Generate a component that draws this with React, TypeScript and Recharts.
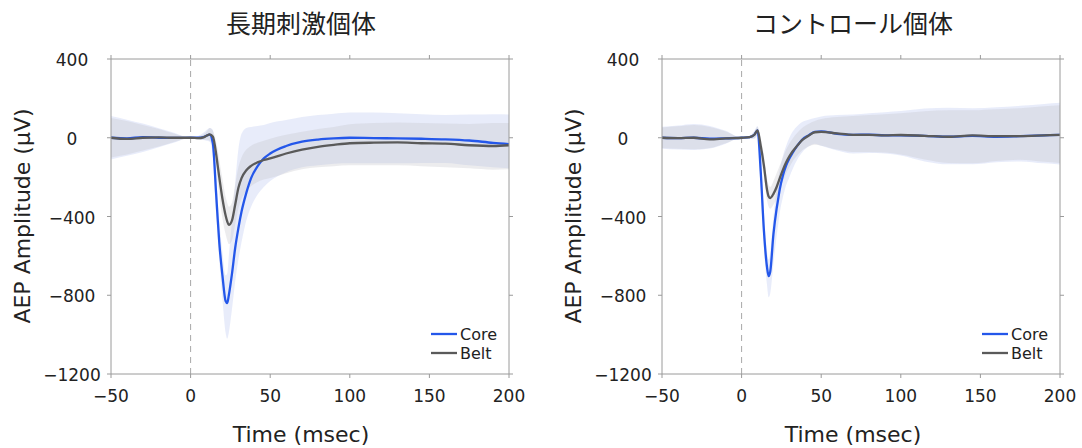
import { ComposedChart, Line, Area, XAxis, YAxis, ReferenceLine } from "recharts";

// time axis (msec), shared by both panels
const time = [-50, -40, -30, -20, -10, 0, 5, 8, 10, 12, 14, 16, 17, 18, 20, 22, 23, 24, 26, 28, 30, 32, 35, 38, 42, 46, 50, 60, 70, 80, 90, 100, 115, 130, 145, 160, 175, 190, 200];

const xTicks = [-50, 0, 50, 100, 150, 200];
const yTicks = [-1200, -800, -400, 0, 400];

// 長期刺激個体
const longCore = [0, -3, 3, 0, -1, 0, 0, 3, 10, 16, -30, -280, -410, -530, -700, -830, -840, -800, -690, -560, -460, -375, -280, -205, -145, -105, -80, -42, -20, -9, -3, 0, -2, -3, -5, -8, -14, -26, -32];
const longBelt = [0, -6, 0, 2, 0, 0, -2, 2, 10, 17, 5, -80, -140, -200, -310, -395, -425, -443, -420, -340, -255, -205, -165, -143, -125, -113, -105, -80, -60, -46, -36, -28, -25, -24, -28, -30, -38, -42, -38];
const longCoreHi = [110, 92, 72, 48, 24, 0, 10, 25, 40, 50, 40, -180, -320, -420, -580, -700, -690, -600, -420, -230, -60, 20, 50, 55, 60, 65, 75, 90, 105, 115, 122, 128, 128, 125, 120, 115, 118, 120, 118];
const longCoreLo = [-110, -92, -72, -48, -24, 0, -10, -12, -15, -20, -100, -380, -500, -620, -820, -990, -1020, -990, -870, -730, -620, -530, -420, -350, -290, -250, -220, -175, -150, -140, -132, -130, -130, -130, -128, -128, -140, -150, -155];
const longBeltHi = [100, 85, 65, 45, 20, 0, 8, 15, 30, 50, 35, -20, -60, -110, -210, -300, -330, -350, -330, -240, -150, -100, -60, -40, -25, -15, -5, 15, 30, 45, 55, 68, 75, 78, 75, 72, 70, 75, 75];
const longBeltLo = [-100, -85, -65, -45, -20, 0, -8, -10, -10, -15, -30, -140, -220, -290, -410, -490, -520, -540, -520, -440, -360, -310, -270, -245, -225, -212, -205, -180, -160, -150, -145, -140, -140, -140, -145, -150, -155, -162, -160];

// コントロール個体
const ctrlCore = [0, -2, 0, -5, -3, 0, 3, 15, 37, -170, -470, -660, -703, -680, -490, -360, -310, -260, -190, -140, -105, -77, -40, -10, 12, 30, 32, 20, 15, 16, 12, 12, 10, 5, 10, 5, 8, 12, 15];
const ctrlBelt = [0, -2, 0, -8, -3, 0, 3, 15, 37, -40, -140, -265, -298, -306, -285, -250, -228, -205, -162, -125, -95, -70, -40, -12, 10, 28, 30, 22, 15, 15, 12, 14, 10, 5, 12, 8, 8, 12, 15];
const ctrlCoreHi = [56, 62, 70, 60, 35, 0, 8, 35, 60, -80, -380, -580, -620, -580, -400, -260, -210, -160, -90, -40, 0, 30, 60, 80, 92, 100, 108, 115, 118, 125, 130, 136, 148, 152, 150, 155, 162, 172, 178];
const ctrlCoreLo = [-56, -60, -62, -55, -30, 0, -5, -5, 10, -260, -560, -750, -810, -790, -640, -500, -440, -380, -300, -240, -200, -160, -110, -75, -45, -30, -40, -65, -80, -78, -80, -90, -120, -135, -135, -125, -120, -130, -136];
const ctrlBeltHi = [52, 58, 65, 55, 32, 0, 8, 30, 55, 0, -90, -210, -240, -250, -220, -180, -160, -140, -100, -60, -30, -5, 25, 50, 70, 85, 95, 105, 110, 115, 120, 125, 135, 140, 140, 145, 150, 160, 165];
const ctrlBeltLo = [-52, -56, -58, -52, -28, 0, -5, -3, 15, -90, -200, -320, -350, -360, -340, -310, -290, -265, -220, -180, -150, -120, -90, -65, -45, -35, -40, -60, -72, -72, -75, -85, -110, -128, -130, -118, -112, -122, -128];

const FONT = "DejaVu Sans";
const frame = "#9a9a9a";
const ink = "#222";
const blue = "#2457ea";
const grey = "#5a5a5a";

const fmt = (v: number) => (v < 0 ? `\u2212${-v}` : `${v}`);

const YTick = ({ x, y, payload }: any) => (
  <text x={x - 33} y={y + 1} textAnchor="middle" dominantBaseline="central" fontSize={17} fill={ink} fontFamily={FONT}>
    {fmt(payload.value)}
  </text>
);

const XTick = ({ x, y, payload }: any) => (
  <text x={x} y={y + 16} textAnchor="middle" dominantBaseline="central" fontSize={17} fill={ink} fontFamily={FONT}>
    {fmt(payload.value)}
  </text>
);

function Panel(props: any) {
  const { left, axisWidth, rightMargin, title, cx, core, belt, coreLo, coreHi, beltLo, beltHi } = props;
  const data = time.map((t, i) => ({
    t,
    core: core[i],
    belt: belt[i],
    coreBand: [coreLo[i], coreHi[i]],
    beltBand: [beltLo[i], beltHi[i]],
  }));
  const plotRight = 541 - rightMargin;
  return (
    <div style={{ position: "absolute", left, top: 0, width: 541, height: 448 }}>
      <ComposedChart width={541} height={448} data={data} margin={{ top: 58, right: rightMargin - 1, bottom: 34, left: 0 }}>
        <XAxis xAxisId="b" dataKey="t" type="number" domain={[-50, 200]} ticks={xTicks} height={40}
          stroke={frame} tickSize={4} tickMargin={2} tick={<XTick />} allowDataOverflow />
        <XAxis xAxisId="top" orientation="top" dataKey="t" type="number" domain={[-50, 200]} ticks={xTicks} height={1}
          stroke={frame} tickSize={4} tickFormatter={() => ""} allowDataOverflow />
        <YAxis yAxisId="l" type="number" domain={[-1200, 400]} ticks={yTicks} width={axisWidth}
          stroke={frame} tickSize={4} tickMargin={2} tick={<YTick />} allowDataOverflow />
        <YAxis yAxisId="r" orientation="right" type="number" domain={[-1200, 400]} ticks={yTicks} width={1}
          stroke={frame} tickSize={4} tickFormatter={() => ""} allowDataOverflow />
        <ReferenceLine xAxisId="b" yAxisId="l" x={0} stroke="#a8a8a8" strokeDasharray="6 5" strokeWidth={1} />
        <Area xAxisId="b" yAxisId="l" type="monotone" dataKey="coreBand" stroke="none" fill="#c5d0f2" fillOpacity={0.4} isAnimationActive={false} />
        <Area xAxisId="b" yAxisId="l" type="monotone" dataKey="beltBand" stroke="none" fill="#bfbfc6" fillOpacity={0.3} isAnimationActive={false} />
        <Line xAxisId="b" yAxisId="l" type="monotone" dataKey="core" stroke={blue} strokeWidth={2.3} dot={false} isAnimationActive={false} />
        <Line xAxisId="b" yAxisId="l" type="monotone" dataKey="belt" stroke={grey} strokeWidth={2.3} dot={false} isAnimationActive={false} />
      </ComposedChart>

      <div style={{ position: "absolute", left: cx - 200, top: 7, width: 400, textAlign: "center", fontSize: 25, lineHeight: "30px", fontFamily: "Noto Sans CJK JP", color: ink }}>
        {title}
      </div>
      <div style={{ position: "absolute", left: cx - 150, top: 422, width: 300, textAlign: "center", fontSize: 22, lineHeight: "26px", fontFamily: FONT, color: ink }}>
        Time (msec)
      </div>
      <div style={{ position: "absolute", left: axisWidth - 88, top: 216, transform: "translate(-50%, -50%) rotate(-90deg)", whiteSpace: "nowrap", fontSize: 22, lineHeight: "26px", fontFamily: FONT, color: ink }}>
        AEP Amplitude (μV)
      </div>
      <svg style={{ position: "absolute", left: plotRight - 78, top: 324 }} width={80} height={40}>
        <line x1={0} x2={26} y1={10} y2={10} stroke={blue} strokeWidth={2.3} />
        <line x1={0} x2={26} y1={29} y2={29} stroke={grey} strokeWidth={2.3} />
        <text x={29} y={10} dominantBaseline="central" fontSize={16} fontFamily={FONT} fill={ink}>Core</text>
        <text x={29} y={29} dominantBaseline="central" fontSize={16} fontFamily={FONT} fill={ink}>Belt</text>
      </svg>
    </div>
  );
}

export default function App() {
  return (
    <div style={{ position: "absolute", left: 0, top: 0, width: 1082, height: 448, background: "#fff" }}>
      <Panel left={0} axisWidth={111} rightMargin={32} title="長期刺激個体" cx={301}
        core={longCore} belt={longBelt} coreLo={longCoreLo} coreHi={longCoreHi} beltLo={longBeltLo} beltHi={longBeltHi} />
      <Panel left={541} axisWidth={121} rightMargin={22} title="コントロール個体" cx={312}
        core={ctrlCore} belt={ctrlBelt} coreLo={ctrlCoreLo} coreHi={ctrlCoreHi} beltLo={ctrlBeltLo} beltHi={ctrlBeltHi} />
    </div>
  );
}
